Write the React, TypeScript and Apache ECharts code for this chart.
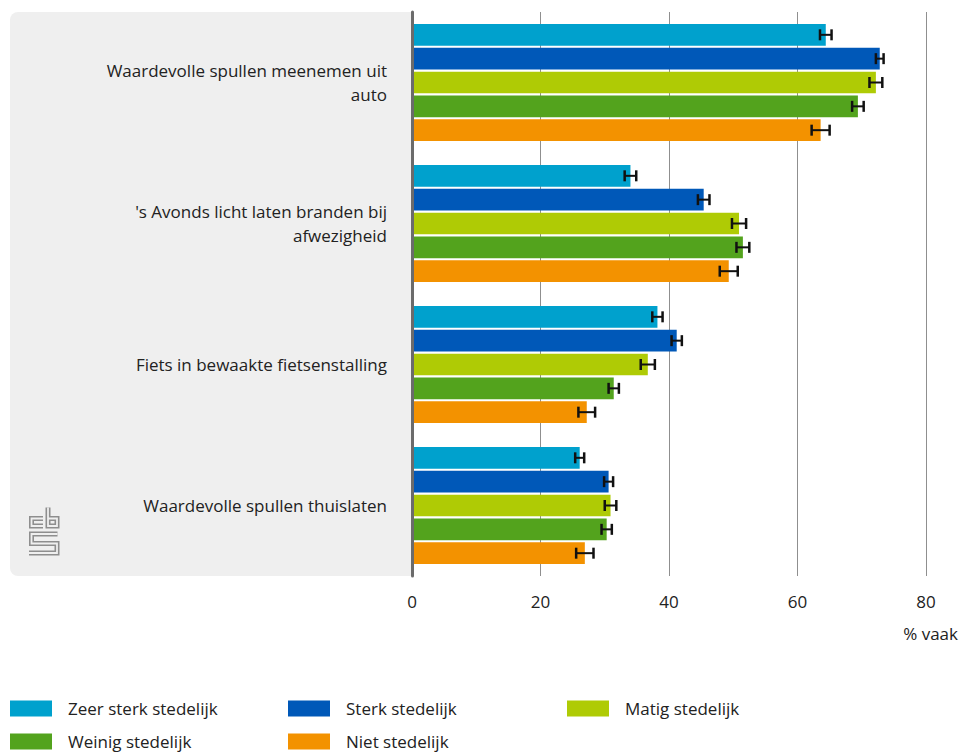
import React, { useEffect, useRef } from "react";
import * as echarts from "echarts";

const categories = [
  "Waardevolle spullen meenemen uit\nauto",
  "'s Avonds licht laten branden bij\nafwezigheid",
  "Fiets in bewaakte fietsenstalling",
  "Waardevolle spullen thuislaten",
];
const seriesNames = [
  "Zeer sterk stedelijk",
  "Sterk stedelijk",
  "Matig stedelijk",
  "Weinig stedelijk",
  "Niet stedelijk",
];
const colors = ["#00a1cd", "#0058b8", "#afcb05", "#53a31d", "#f39200"];
const zeerSterk = [64.4, 34.0, 38.2, 26.1];
const sterk = [72.8, 45.4, 41.2, 30.6];
const matig = [72.2, 50.9, 36.7, 30.9];
const weinig = [69.4, 51.5, 31.4, 30.3];
const niet = [63.6, 49.3, 27.2, 26.9];
const zeerSterkErr = [0.9, 0.9, 0.8, 0.7];
const sterkErr = [0.6, 0.9, 0.8, 0.7];
const matigErr = [1.0, 1.1, 1.1, 0.9];
const weinigErr = [0.9, 1.0, 0.8, 0.8];
const nietErr = [1.4, 1.4, 1.3, 1.35];
const xTicks = [0, 20, 40, 60, 80];
const axisName = "% vaak";

const values = [zeerSterk, sterk, matig, weinig, niet];
const errors = [zeerSterkErr, sterkErr, matigErr, weinigErr, nietErr];

const FONT = "Open Sans";
const FS = 17;
const CAT_GAP = 0.17;
const BAR_GAP = 0.1;

export default function App() {
  const ref = useRef<HTMLDivElement>(null);
  useEffect(() => {
    if (!ref.current) return;
    const chart = echarts.init(ref.current, undefined, { renderer: "svg" });
    const n = seriesNames.length;

    const barSeries = seriesNames.map((name, i) => ({
      name,
      type: "bar",
      data: values[i],
      itemStyle: { color: colors[i] },
      barCategoryGap: CAT_GAP * 100 + "%",
      barGap: BAR_GAP * 100 + "%",
      z: 2,
    }));

    const errSeries = seriesNames.map((name, i) => ({
      name: name + "-err",
      type: "custom",
      z: 5,
      data: values[i].map((v, c) => [v, c, errors[i][c]]),
      encode: { x: 0, y: 1 },
      renderItem: (params: any, api: any) => {
        const v = api.value(0);
        const c = api.value(1);
        const e = api.value(2);
        const band = api.size([0, 1])[1];
        const total = band * (1 - CAT_GAP);
        const w = total / (n + (n - 1) * BAR_GAP);
        const off = -total / 2 + i * w * (1 + BAR_GAP) + w / 2;
        const p1 = api.coord([v - e, c]);
        const p2 = api.coord([v + e, c]);
        const y = p1[1] + off;
        const h = 5.5;
        const st = { stroke: "#111", lineWidth: 2 };
        return {
          type: "group",
          children: [
            { type: "line", shape: { x1: p1[0], y1: y, x2: p2[0], y2: y }, style: st },
            { type: "line", shape: { x1: p1[0], y1: y - h, x2: p1[0], y2: y + h }, style: { stroke: "#111", lineWidth: 2.5 } },
            { type: "line", shape: { x1: p2[0], y1: y - h, x2: p2[0], y2: y + h }, style: { stroke: "#111", lineWidth: 2.5 } },
          ],
        };
      },
    }));

    const legendCols = [10, 288, 567];
    const legendRows = [700, 733];
    const legends = seriesNames.map((name, i) => ({
      data: [name],
      left: legendCols[i % 3],
      top: legendRows[Math.floor(i / 3)],
      itemWidth: 42,
      itemHeight: 16,
      icon: "rect",
      padding: 0,
      selectedMode: false,
      textStyle: { fontFamily: FONT, fontSize: FS, color: "#222", padding: [0, 0, 0, 11] },
    }));

    const outer = { stroke: "#8e8e8e", lineWidth: 5, fill: null as any, lineJoin: "miter" };
    const inner = { stroke: "#efefef", lineWidth: 1.8, fill: null as any, lineJoin: "miter" };
    const logoLines = [
      [[43, 518.5], [31.5, 518.5], [31.5, 526], [43, 526]],
      [[48, 507.5], [48, 526], [57, 526], [57, 518.5], [48, 518.5]],
      [[57.5, 534], [31.5, 534], [31.5, 543.5], [57, 543.5], [57, 553], [29, 553]],
    ];
    const logo: any[] = [];
    logoLines.forEach((pts) => logo.push({ type: "polyline", shape: { points: pts }, style: outer, z: -5, silent: true }));
    logoLines.forEach((pts) => logo.push({ type: "polyline", shape: { points: pts }, style: inner, z: -4, silent: true }));

    chart.setOption({
      animation: false,
      textStyle: { fontFamily: FONT },
      grid: { left: 412, right: 35, top: 12, bottom: 177, containLabel: false },
      xAxis: {
        type: "value",
        min: 0,
        max: 80,
        interval: 20,
        axisLine: { show: false },
        axisTick: { show: false },
        splitLine: { lineStyle: { color: "#8f8f8f", width: 1 } },
        axisLabel: {
          fontFamily: FONT,
          fontSize: FS,
          color: "#222",
          margin: 17,
          formatter: (v: number) => (xTicks.includes(v) ? String(v) : ""),
        },
      },
      yAxis: {
        type: "category",
        data: categories,
        inverse: true,
        axisLine: { show: true, lineStyle: { color: "#6b6b6b", width: 3 } },
        axisTick: { show: false },
        axisLabel: {
          fontFamily: FONT,
          fontSize: FS,
          color: "#222",
          lineHeight: 24,
          margin: 25,
          align: "right",
        },
        z: 3,
      },
      legend: legends,
      graphic: [
        {
          type: "rect",
          left: 10,
          top: 12,
          shape: { width: 402, height: 564, r: [8, 0, 0, 8] },
          style: { fill: "#efefef" },
          z: -10,
          silent: true,
        },
        ...logo,
        {
          type: "text",
          right: 3,
          top: 625,
          style: { text: axisName, fontFamily: FONT, fontSize: FS, fill: "#222" },
        },
      ],
      series: [...barSeries, ...errSeries],
    });
    return () => chart.dispose();
  }, []);
  return <div ref={ref} style={{ width: 961, height: 753, position: "absolute", left: 0, top: 0 }} />;
}
